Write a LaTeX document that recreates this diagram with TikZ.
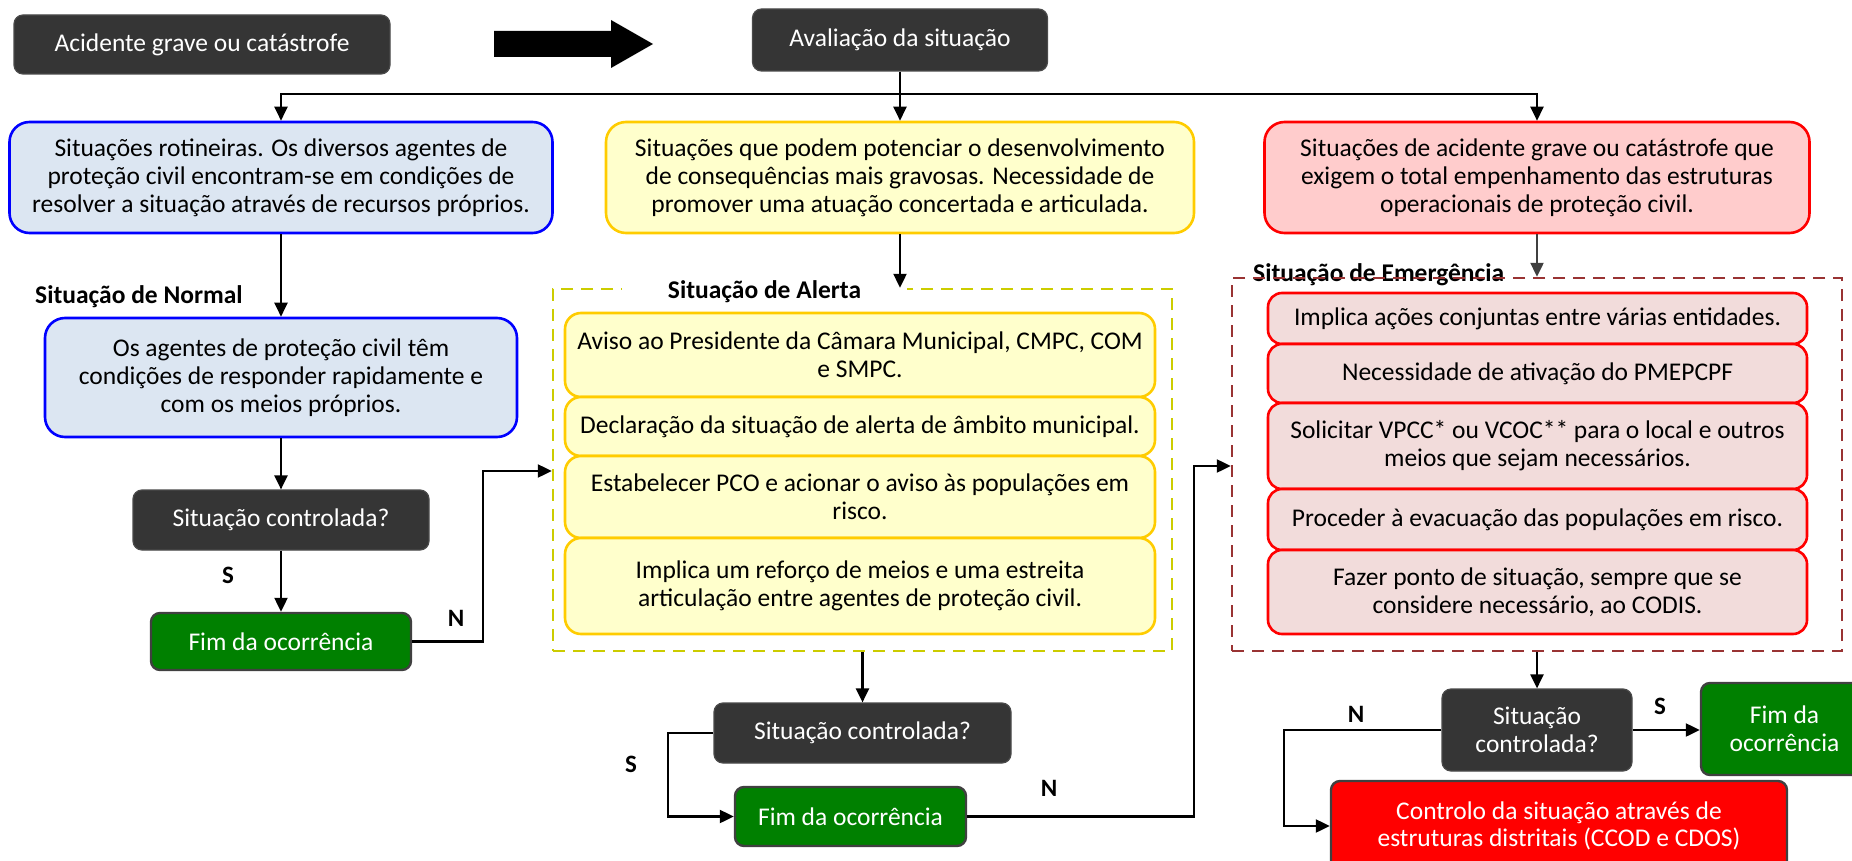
\documentclass[tikz,border=0pt]{standalone}
\usepackage{fontspec}
\setmainfont{Carlito}
\usetikzlibrary{arrows.meta}

\definecolor{darkfill}{HTML}{353535}
\definecolor{darkedge}{HTML}{4A4A4A}
\definecolor{edgegray}{HTML}{404040}
\definecolor{bluefill}{HTML}{DCE6F2}
\definecolor{blueedge}{HTML}{0000FF}
\definecolor{yelfill}{HTML}{FFFFCC}
\definecolor{yeledge}{HTML}{FFCC00}
\definecolor{pinkfill}{HTML}{FFCCCC}
\definecolor{rosefill}{HTML}{F2DCDB}
\definecolor{rededge}{HTML}{FF0000}
\definecolor{okgreen}{HTML}{008000}
\definecolor{alertdash}{HTML}{CCCC00}
\definecolor{emerdash}{HTML}{993333}

\tikzset{
  every node/.style={align=center, inner sep=0pt},
  darkbox/.style={draw=darkedge, fill=darkfill, text=white, rounded corners=9pt, line width=1.2pt},
  bluebox/.style={draw=blueedge, fill=bluefill, rounded corners=20pt, line width=2.6pt},
  yelbox/.style={draw=yeledge, fill=yelfill, rounded corners=20pt, line width=2.6pt},
  pinkbox/.style={draw=rededge, fill=pinkfill, rounded corners=20pt, line width=2.6pt},
  alertitem/.style={draw=yeledge, fill=yelfill, rounded corners=16pt, line width=2.6pt},
  emeritem/.style={draw=rededge, fill=rosefill, rounded corners=14pt, line width=2.6pt},
  endbox/.style={draw=edgegray, fill=okgreen, text=white, rounded corners=9pt, line width=2.4pt},
  escbox/.style={draw=edgegray, fill=rededge, text=white, rounded corners=9pt, line width=2.4pt},
  alertframe/.style={draw=alertdash, line width=2.4pt, dash pattern=on 12pt off 8pt},
  emerframe/.style={draw=emerdash, line width=2.4pt, dash pattern=on 12pt off 8pt},
  heading/.style={font=\fontsize{25.5}{28}\selectfont\bfseries},
  yn/.style={font=\fontsize{25}{28}\selectfont\bfseries},
  conn/.style={line width=2.2pt, -{Triangle[length=14pt,width=13pt]}},
}

\begin{document}
\begin{tikzpicture}[x=1pt, y=-1pt, font=\fontsize{25.5}{27.8}\selectfont]
\useasboundingbox (0,0) rectangle (1852,861);

% top row
\node[darkbox, minimum width=376, minimum height=59] (acid) at (202,44.5) {Acidente grave ou catástrofe};
\fill (494,31) -- (611,31) -- (611,20) -- (653,44) -- (611,68) -- (611,57) -- (494,57) -- cycle;
\node[darkbox, minimum width=295, minimum height=62] (aval) at (900,40) {Avaliação da situação};

% three levels
\node[bluebox, minimum width=543, minimum height=111] (norm) at (281,177.5)
  {Situações rotineiras. Os diversos agentes de\\proteção civil encontram-se em condições de\\resolver a situação através de recursos próprios.};
\node[yelbox, minimum width=588, minimum height=111] (alrt) at (900,177.5)
  {Situações que podem potenciar o desenvolvimento\\de consequências mais gravosas. Necessidade de\\promover uma atuação concertada e articulada.};
\node[pinkbox, minimum width=545, minimum height=111] (emer) at (1537,177.5)
  {Situações de acidente grave ou catástrofe que\\exigem o total empenhamento das estruturas\\operacionais de proteção civil.};

\coordinate (split) at (900,94);
\draw[conn] (aval.south) -- (alrt.north);
\draw[conn] (split) -| (norm.north);
\draw[conn] (split) -| (emer.north);

% normal branch
\node[heading, anchor=base west] (normtitle) at (35,303) {Situação de Normal};
\node[bluebox, minimum width=472, minimum height=119] (norm2) at (281,377.5)
  {Os agentes de proteção civil têm\\condições de responder rapidamente e\\com os meios próprios.};
\node[darkbox, minimum width=296, minimum height=60] (ctl1) at (281,520) {Situação controlada?};
\node[endbox, minimum width=260, minimum height=57] (fim1) at (281,641.5) {Fim da ocorrência};
\draw[conn] (norm.south) -- (norm2.north);
\draw[conn] (norm2.south) -- (ctl1.north);
\draw[conn] (ctl1.south) -- (fim1.north);
\node[yn] (s1) at (228,575) {S};
\node[yn] (n1) at (456,618) {N};

% alert frame
\node[alertframe, minimum width=619, minimum height=362] (aframe) at (862.5,470) {};
\node[heading, fill=white, minimum width=285, anchor=base, inner ysep=4pt] (atitle) at (764.5,298) {Situação de Alerta};
\node[alertitem, minimum width=590, minimum height=84] (a1) at (860,355)
  {Aviso ao Presidente da Câmara Municipal, CMPC, COM\\e SMPC.};
\node[alertitem, minimum width=590, minimum height=59] (a2) at (860,426.5)
  {Declaração da situação de alerta de âmbito municipal.};
\node[alertitem, minimum width=590, minimum height=82] (a3) at (860,497)
  {Estabelecer PCO e acionar o aviso às populações em\\risco.};
\node[alertitem, minimum width=590, minimum height=96] (a4) at (860,586)
  {Implica um reforço de meios e uma estreita\\articulação entre agentes de proteção civil.};
\draw[conn] (alrt.south) -- (alrt.south |- aframe.north);

\coordinate (nup1) at (483,471);
\draw[conn] (fim1.east) -| (nup1) -- (aframe.west |- nup1);

\node[darkbox, minimum width=297, minimum height=60] (ctl2) at (862.5,733) {Situação controlada?};
\node[endbox, minimum width=231, minimum height=59] (fim2) at (850.5,816.5) {Fim da ocorrência};
\draw[conn] (aframe.south) -- (ctl2.north);
\coordinate (sdown2) at (668,733);
\draw[conn] (ctl2.west) -- (sdown2) |- (fim2.west);
\node[yn] (s2) at (631,764) {S};
\node[yn] (n2) at (1049,788) {N};

% emergency frame
\node[heading, anchor=base west] (etitle) at (1253,281) {Situação de Emergência};
\node[emerframe, minimum width=610, minimum height=373] (eframe) at (1537,464.5) {};
\node[emeritem, minimum width=539, minimum height=51] (e1) at (1537.5,318.5)
  {Implica ações conjuntas entre várias entidades.};
\node[emeritem, minimum width=539, minimum height=59] (e2) at (1537.5,373.5)
  {Necessidade de ativação do PMEPCPF};
\node[emeritem, minimum width=539, minimum height=86] (e3) at (1537.5,446)
  {Solicitar VPCC* ou VCOC** para o local e outros\\meios que sejam necessários.};
\node[emeritem, minimum width=539, minimum height=61] (e4) at (1537.5,519.5)
  {Proceder à evacuação das populações em risco.};
\node[emeritem, minimum width=539, minimum height=84] (e5) at (1537.5,592)
  {Fazer ponto de situação, sempre que se\\considere necessário, ao CODIS.};
\draw[conn, draw=edgegray, fill=edgegray] (emer.south) -- (emer.south |- eframe.north);

\coordinate (nup2) at (1194,466);
\draw[conn] (fim2.east) -| (nup2) -- (eframe.west |- nup2);

\node[darkbox, minimum width=190, minimum height=82] (ctl3) at (1537,730) {Situação\\controlada?};
\node[endbox, minimum width=167, minimum height=92] (fim3) at (1784.5,729) {Fim da\\ocorrência};
\node[escbox, minimum width=456, minimum height=90] (esc) at (1559,826)
  {Controlo da situação através de\\estruturas distritais (CCOD e CDOS)};
\draw[conn] (eframe.south) -- (ctl3.north);
\draw[conn] (ctl3.east) -- (fim3.west |- ctl3.east);
\coordinate (ndown3) at (1284,730);
\draw[conn] (ctl3.west) -- (ndown3) |- (esc.west);
\node[yn] (s3) at (1660,706) {S};
\node[yn] (n3) at (1356,714) {N};
\end{tikzpicture}
\end{document}
